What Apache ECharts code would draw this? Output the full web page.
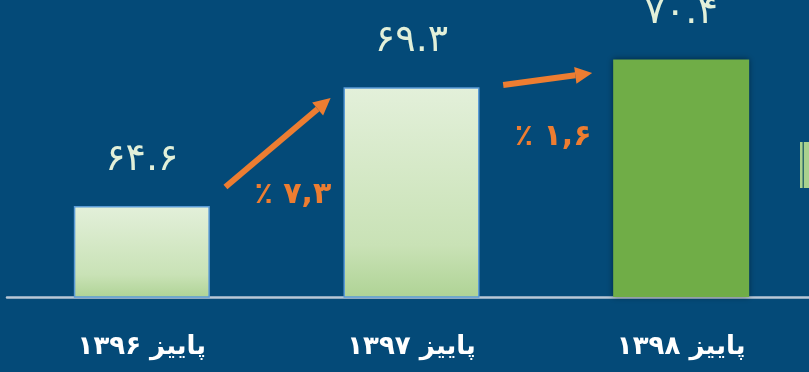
<!DOCTYPE html>
<html>
<head>
<meta charset="utf-8">
<script src="https://cdn.jsdelivr.net/npm/echarts@6/dist/echarts.min.js"></script>
<style>
  html, body { margin: 0; padding: 0; background: #044a78; }
  #main { width: 809px; height: 372px; }
</style>
</head>
<body>
<div id="main"></div>
<script>
const categories = ['پاییز ۱۳۹۶', 'پاییز ۱۳۹۷', 'پاییز ۱۳۹۸'];
const values = [64.6, 69.3, 70.4];
const valueLabels = ['۶۴.۶', '۶۹.۳', '۷۰.۴'];
const growthLabels = ['٪ ۷,۳', '٪ ۱,۶'];
// growth arrows, in [category index, value] space
const arrowFrom = [[0.31, 65.35], [1.34, 69.39]];
const arrowTo = [[0.70, 68.87], [1.67, 69.86]];
const growthAt = [[0.56, 65.04], [1.525, 67.33]];

const chart = echarts.init(document.getElementById('main'));

const lightBar = {
  color: new echarts.graphic.LinearGradient(0, 0, 0, 1, [
    { offset: 0, color: '#e3f0da' },
    { offset: 0.75, color: '#c9e2b6' },
    { offset: 1, color: '#afd395' }
  ]),
  borderColor: '#5b9bd5',
  borderWidth: 1.5
};
const darkBar = {
  color: '#70ad47',
  shadowBlur: 6,
  shadowColor: 'rgba(0,0,0,0.45)'
};

chart.setOption({
  backgroundColor: '#044a78',
  animation: false,
  grid: { left: 7, width: 809, top: 19, bottom: 75, outerBoundsMode: 'none' },
  xAxis: {
    type: 'category',
    data: categories,
    axisTick: { show: false },
    axisLine: { lineStyle: { color: '#b9c8d6', width: 2.5 } },
    axisLabel: {
      color: '#ffffff',
      fontFamily: 'DejaVu Sans',
      fontWeight: 'bold',
      fontSize: 26,
      margin: 37
    }
  },
  yAxis: {
    type: 'value',
    min: 61,
    max: 72,
    show: false,
    splitLine: { show: false }
  },
  series: [{
    type: 'bar',
    barWidth: 136,
    data: values.map((v, i) => ({
      value: v,
      itemStyle: i < 2 ? lightBar : darkBar
    })),
    label: {
      show: true,
      position: 'top',
      distance: 27,
      color: '#e2f0d9',
      fontFamily: 'DejaVu Sans',
      fontSize: 38,
      formatter: (p) => valueLabels[p.dataIndex]
    }
  }]
});

// annotations placed through the axes
const x0 = chart.convertToPixel({ xAxisIndex: 0 }, 0);
const step = chart.convertToPixel({ xAxisIndex: 0 }, 1) - x0;
const px = (idx) => x0 + idx * step;
const py = (v) => chart.convertToPixel({ yAxisIndex: 0 }, v);

const graphics = [];
arrowFrom.forEach((a, i) => {
  const b = arrowTo[i];
  const sx = px(a[0]), sy = py(a[1]);
  const ex = px(b[0]), ey = py(b[1]);
  const ang = Math.atan2(ey - sy, ex - sx);
  const head = 17, half = 8.5;
  const bx = ex - head * Math.cos(ang), by = ey - head * Math.sin(ang);
  graphics.push({
    type: 'line',
    shape: { x1: sx, y1: sy, x2: bx, y2: by },
    style: { stroke: '#ed7d31', lineWidth: 6 }
  });
  graphics.push({
    type: 'polygon',
    shape: {
      points: [
        [ex, ey],
        [bx + half * Math.sin(ang), by - half * Math.cos(ang)],
        [bx - half * Math.sin(ang), by + half * Math.cos(ang)]
      ]
    },
    style: { fill: '#ed7d31' }
  });
});
growthAt.forEach((g, i) => {
  graphics.push({
    type: 'text',
    x: px(g[0]),
    y: py(g[1]),
    style: {
      text: growthLabels[i],
      fill: '#ed7d31',
      font: 'bold 30px "DejaVu Sans"',
      align: 'center',
      verticalAlign: 'middle'
    }
  });
});
// clipped edge of the next panel at the right border
graphics.push({
  type: 'rect',
  shape: { x: 800, y: 142, width: 12, height: 46 },
  style: { fill: '#a9d18e' }
});
graphics.push({
  type: 'rect',
  shape: { x: 802.5, y: 142, width: 1.5, height: 46 },
  style: { fill: '#2f6a6a' }
});
chart.setOption({ graphic: graphics });
</script>
</body>
</html>
